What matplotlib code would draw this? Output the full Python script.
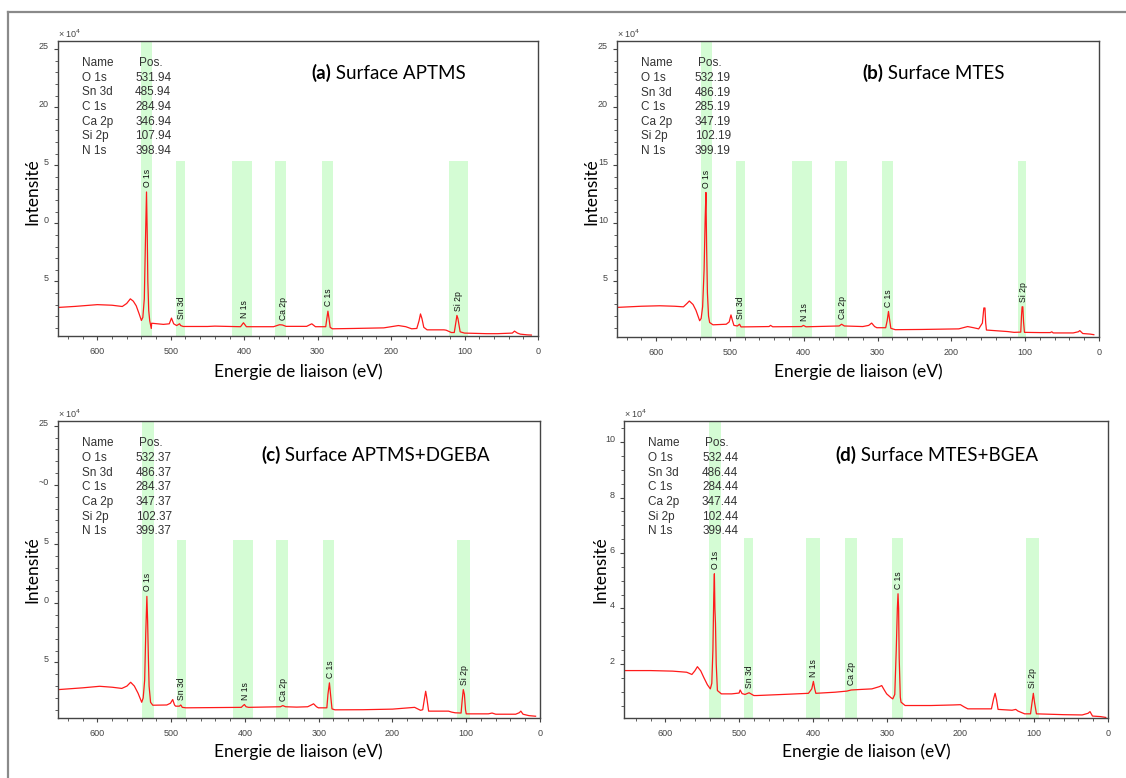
import matplotlib.pyplot as plt
from matplotlib.lines import Line2D
from matplotlib.ticker import MultipleLocator
import numpy as np

W, H = 1126, 778

peak_names = ["O 1s", "Sn 3d", "C 1s", "Ca 2p", "Si 2p", "N 1s"]
panel_tags = ["(a)", "(b)", "(c)", "(d)"]
panel_names = ["Surface APTMS", "Surface MTES", "Surface APTMS+DGEBA", "Surface MTES+BGEA"]

# peak positions from the tables (eV)
pos_a = [531.94, 485.94, 284.94, 346.94, 107.94, 398.94]
pos_b = [532.19, 486.19, 285.19, 347.19, 102.19, 399.19]
pos_c = [532.37, 486.37, 284.37, 347.37, 102.37, 399.37]
pos_d = [532.44, 486.44, 284.44, 347.44, 102.44, 399.44]

# spectra (binding energy eV, intensity x1e4)
energy_a = [653, 630, 600, 580, 566, 560, 555, 551, 547, 543, 540, 538, 536, 534.5, 533, 532, 531.2, 530,
            528.6, 526.5, 526, 510, 502, 499, 496, 492, 488, 486.5, 483, 450, 440, 405, 401, 397, 360, 352,
            348, 343, 315, 308, 303, 289, 287.5, 286, 284.5, 283, 280, 250, 210, 190, 180, 172, 165, 162,
            160, 158, 155.5, 151, 128, 125, 118, 114, 111.5, 110.4, 109, 106, 100, 70, 55, 35, 32, 28, 24,
            15, 9]
intens_a = [2.76, 2.85, 3.0, 2.95, 2.84, 3.1, 3.5, 3.3, 2.9, 2.2, 1.64, 1.9, 3.5, 8.3, 12.7, 9.0, 5.0, 2.5,
            1.6, 0.95, 1.4, 1.3, 1.35, 1.84, 1.35, 1.2, 1.35, 1.2, 1.12, 1.12, 1.15, 1.1, 1.44, 1.1, 1.1, 1.27,
            1.25, 1.13, 1.13, 1.35, 1.1, 1.1, 1.8, 2.44, 1.8, 1.05, 0.92, 0.95, 1.0, 1.2, 1.1, 0.92, 0.95, 1.6,
            2.2, 1.8, 1.05, 0.83, 0.83, 0.8, 0.6, 0.6, 1.6, 2.07, 1.8, 0.66, 0.55, 0.5, 0.5, 0.55, 0.72, 0.55,
            0.46, 0.4, 0.38]

energy_b = [653, 620, 595, 575, 563, 558, 555, 550, 546, 541, 539, 537, 535, 533.5, 532.5, 531.6, 530.5, 529,
            527.5, 523, 505, 501, 498.6, 496.5, 494.6, 490, 487, 485, 470, 447, 445, 442, 403, 400.5, 397,
            352, 348.7, 345, 320, 312, 308, 304, 301, 289, 287, 285.2, 283.5, 282, 276, 240, 190, 178, 170,
            163, 158, 156, 154.5, 153.5, 152.5, 135, 124, 115, 106, 105, 104.2, 103.2, 102.2, 101, 80, 66, 64,
            62, 35, 28, 26, 22, 12, 7]
intens_b = [2.75, 2.85, 2.89, 2.85, 2.8, 3.1, 3.3, 3.0, 2.5, 1.6, 1.8, 2.8, 6.0, 10.5, 12.65, 8.0, 4.0, 2.0,
            1.45, 1.25, 1.3, 1.5, 2.1, 1.6, 1.2, 1.15, 1.3, 1.07, 1.08, 1.1, 1.2, 1.08, 1.1, 1.2, 1.08, 1.15,
            1.3, 1.15, 1.1, 1.2, 1.4, 1.1, 1.0, 1.0, 1.6, 2.4, 1.6, 0.95, 0.83, 0.85, 0.9, 1.1, 1.0, 0.9, 1.4,
            2.7, 2.7, 1.4, 0.8, 0.72, 0.67, 0.6, 0.62, 2.0, 2.8, 2.8, 1.5, 0.6, 0.58, 0.58, 0.65, 0.55, 0.55,
            0.65, 0.75, 0.5, 0.45, 0.4]

energy_c = [653, 620, 597, 580, 567, 560, 555, 550, 545, 540, 538, 536, 534.5, 533, 532, 531, 530, 528, 525,
            506, 501, 498, 495.5, 494, 489, 487, 485, 480, 405, 402.5, 400.8, 398.5, 395, 352, 348.7, 345, 330,
            315, 310, 307, 303, 300.5, 289, 287.5, 285.5, 284, 282, 278, 240, 200, 180, 170, 162, 159, 157, 155,
            153.5, 151, 124, 120, 115, 107, 105.5, 104, 102.5, 101, 100, 70, 65, 60, 33, 28, 26, 23, 15, 6]
intens_c = [2.7, 2.85, 2.98, 2.9, 2.8, 3.0, 3.32, 3.0, 2.4, 1.63, 2.0, 3.5, 7.5, 10.58, 8.5, 5.5, 3.0, 1.63,
            1.38, 1.4, 1.55, 1.86, 1.4, 1.3, 1.3, 1.4, 1.2, 1.16, 1.2, 1.35, 1.44, 1.25, 1.2, 1.25, 1.35, 1.25,
            1.22, 1.25, 1.4, 1.5, 1.25, 1.16, 1.16, 2.3, 3.27, 2.3, 1.07, 0.99, 1.0, 1.05, 1.15, 1.2, 0.95, 1.0,
            1.8, 2.56, 2.0, 0.88, 0.88, 0.8, 0.74, 0.72, 1.8, 2.7, 2.3, 1.0, 0.65, 0.65, 0.72, 0.62, 0.62, 0.75,
            0.88, 0.62, 0.5, 0.45]

energy_d = [656, 620, 590, 571, 564, 560, 556.5, 552, 548, 543, 539, 537, 535.5, 534.3, 533.5, 532.8, 532, 531,
            529.4, 524, 510, 500, 498.6, 496, 492, 486.5, 480, 476, 440, 406, 401.5, 399.3, 397.5, 396, 370,
            354, 348, 335, 320, 310, 306.7, 303, 300, 294, 291.7, 289, 287, 285.5, 284.6, 283.8, 283, 281.5,
            280.5, 275, 240, 210, 200, 195, 190, 158, 155, 153, 151, 149, 130, 125, 122, 113, 105, 103, 101.2,
            99.5, 97, 60, 35, 27, 24.4, 21, 10, 3]
intens_d = [1.76, 1.76, 1.74, 1.7, 1.62, 1.75, 1.9, 1.75, 1.52, 1.25, 1.1, 1.3, 2.5, 4.5, 5.25, 4.0, 3.45, 2.0,
            1.04, 0.92, 0.92, 0.95, 1.06, 0.93, 0.9, 0.96, 0.86, 0.86, 0.9, 0.94, 1.1, 1.37, 1.1, 0.94, 0.98,
            1.02, 1.06, 1.08, 1.1, 1.18, 1.22, 1.05, 0.92, 0.78, 0.74, 0.9, 2.5, 4.0, 4.53, 4.0, 2.2, 0.8, 0.62,
            0.5, 0.5, 0.52, 0.53, 0.45, 0.38, 0.38, 0.75, 0.94, 0.7, 0.36, 0.33, 0.36, 0.3, 0.2, 0.2, 0.6, 0.94,
            0.6, 0.2, 0.17, 0.16, 0.22, 0.28, 0.12, 0.1, 0.07]

# shaded regions, same order as peak_names
bands_a = [(540, 525), (492.5, 480.3), (294.4, 279.5), (357.8, 343.3), (120.8, 95.5), (416.6, 389.4)]
bands_b = [(539.8, 524.9), (491.9, 479.6), (293.4, 278.8), (357.1, 340.8), (109.6, 98.4), (415.9, 388.7)]
bands_c = [(540, 524), (492, 480), (293.6, 279), (357.4, 341), (112, 94.6), (416, 389)]
bands_d = [(540.7, 524.8), (493, 480.6), (292.7, 278.2), (356.4, 340.5), (110.7, 93), (409.6, 390)]
band_tops = [15.35, 15.4, 15.37, 6.53]

ylims = [(0.3, 25.7), (0.2, 25.7), (0.3, 25.4), (0.05, 10.76)]
ytick_vals = [[5, 10, 15, 20, 25], [5, 10, 15, 20, 25], [5, 10, 15, 20, 25], [2, 4, 6, 8, 10]]
ytick_text = [["5", "0", "5", "20", "25"], ["5", "10", "15", "20", "25"],
              ["5", "0", "5", "~0", "25"], ["2", "4", "6", "8", "10"]]
yminor = [1, 1, 1, 0.5]
xlims = [(653.5, 0), (653, 0), (653.5, 0), (656, 0)]

# panel boxes in pixels: left, top, right, bottom
boxes = [(58, 41, 538, 336), (617, 41, 1099, 337), (58, 421, 540, 718), (624, 421, 1108, 718)]
tag_xy = [(311, 73), (862, 73), (261, 455), (835, 455)]
xlabel_xy = [(298, 372), (858, 372), (298, 752), (866, 752)]
ylabel_xy = [(32, 192), (591, 192), (32, 570), (600, 570)]

energies = [energy_a, energy_b, energy_c, energy_d]
intensities = [intens_a, intens_b, intens_c, intens_d]
positions = [pos_a, pos_b, pos_c, pos_d]
bands = [bands_a, bands_b, bands_c, bands_d]

fig = plt.figure(figsize=(W / 100, H / 100), dpi=100)

# grey frame of the composite picture
fig.add_artist(Line2D([8 / W, 1], [1 - 12 / H, 1 - 12 / H], color="#8a8a8a", lw=1.6))
fig.add_artist(Line2D([8 / W, 8 / W], [0, 1 - 12 / H], color="#8a8a8a", lw=1.6))

for i in range(4):
    l, t, r, b = boxes[i]
    ax = fig.add_axes([l / W, 1 - b / H, (r - l) / W, (b - t) / H])
    e = np.array(energies[i])
    y = np.array(intensities[i])
    y0, y1 = ylims[i]

    for k, (hi, lo) in enumerate(bands[i]):
        top = y1 if k == 0 else band_tops[i]
        ax.fill_between([lo, hi], y0, top, color="#d4fcd4", lw=0, zorder=0)

    ax.plot(e, y, color="#ff1a1a", lw=0.9, zorder=2)

    for name, p in zip(peak_names, positions[i]):
        near = np.abs(e - p) <= 4.5
        ax.annotate(name, xy=(p, y[near].max()), xytext=(0, 3.5), textcoords="offset points",
                    rotation=90, ha="center", va="bottom", fontsize=6.2,
                    family="Liberation Sans", color="#111111", zorder=3)

    ax.set_xlim(*xlims[i])
    ax.set_ylim(y0, y1)
    ax.xaxis.set_major_locator(MultipleLocator(100))
    ax.xaxis.set_minor_locator(MultipleLocator(20))
    ax.set_yticks(ytick_vals[i])
    ax.set_yticklabels(ytick_text[i])
    ax.yaxis.set_minor_locator(MultipleLocator(yminor[i]))
    ax.tick_params(which="both", direction="out", colors="#444444", labelsize=6.5, top=False, right=False)
    ax.tick_params(which="major", length=3, width=0.8)
    ax.tick_params(axis="x", pad=5)
    ax.tick_params(which="minor", length=2, width=0.6)
    for lab in ax.get_xticklabels() + ax.get_yticklabels():
        lab.set_family("Liberation Sans")
    for lab in ax.get_yticklabels():
        lab.set_verticalalignment("baseline")
    for s in ax.spines.values():
        s.set_color("#444444")
        s.set_linewidth(1.0)

    ax.text(0.0, 1.004, r"× 10$^4$", transform=ax.transAxes, fontsize=6.5, ha="left", va="bottom",
            family="Liberation Sans", color="#444444")

    # peak table
    ax.text(0.05, 0.925, "Name", transform=ax.transAxes, fontsize=8.5, family="Liberation Sans",
            color="#333333", va="center", ha="left")
    ax.text(0.168, 0.925, "Pos.", transform=ax.transAxes, fontsize=8.5, family="Liberation Sans",
            color="#333333", va="center", ha="left")
    for j, (name, p) in enumerate(zip(peak_names, positions[i])):
        yy = 0.925 - 0.0495 * (j + 1)
        ax.text(0.05, yy, name, transform=ax.transAxes, fontsize=8.5, family="Liberation Sans",
                color="#333333", va="center", ha="left")
        ax.text(0.236, yy, "%.2f" % p, transform=ax.transAxes, fontsize=8.5, family="Liberation Sans",
                color="#333333", va="center", ha="right")

    tx, ty = tag_xy[i]
    tag = fig.text(tx / W, 1 - ty / H, panel_tags[i], fontsize=13.5, fontweight="bold", family="Lato",
                   ha="left", va="center")
    ax.annotate(" " + panel_names[i], xy=(1, 0), xycoords=tag, fontsize=13.5, family="Lato",
                ha="left", va="bottom", annotation_clip=False)

    lx, ly = xlabel_xy[i]
    fig.text(lx / W, 1 - ly / H, "Energie de liaison (eV)", fontsize=12.5, family="Lato",
             ha="center", va="center")
    vx, vy = ylabel_xy[i]
    fig.text(vx / W, 1 - vy / H, "Intensité", fontsize=12.5, family="Lato", rotation=90,
             ha="center", va="center")

fig.savefig("out.png", dpi=100)
